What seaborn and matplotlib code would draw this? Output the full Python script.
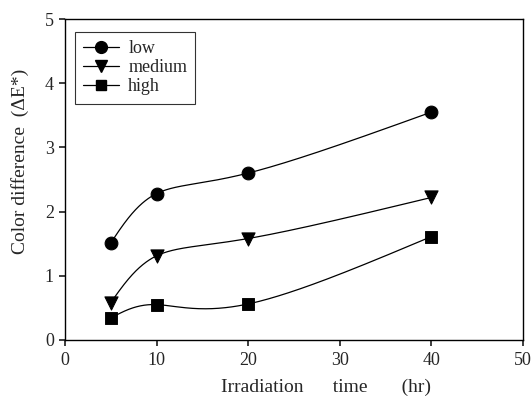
import numpy as np
import pandas as pd
import matplotlib
matplotlib.use("Agg")
import matplotlib.pyplot as plt
from matplotlib.lines import Line2D
import seaborn as sns

hours = [5, 10, 20, 40]
low = [1.51, 2.28, 2.60, 3.55]
medium = [0.58, 1.31, 1.58, 2.22]
high = [0.34, 0.55, 0.56, 1.61]
series_names = ["low", "medium", "high"]
x_ticks = [0, 10, 20, 30, 40, 50]
y_ticks = [0, 1, 2, 3, 4, 5]

sns.set_theme(style="ticks")
plt.rcParams['font.family'] = ['Liberation Serif', 'DejaVu Serif']


def natural_spline_1d(t, v, ts):
    t = np.asarray(t, float)
    v = np.asarray(v, float)
    k = len(t)
    h = np.diff(t)
    A = np.zeros((k, k))
    b = np.zeros(k)
    A[0, 0] = 1
    A[-1, -1] = 1
    for i in range(1, k - 1):
        A[i, i - 1] = h[i - 1]
        A[i, i] = 2 * (h[i - 1] + h[i])
        A[i, i + 1] = h[i]
        b[i] = 6 * ((v[i + 1] - v[i]) / h[i] - (v[i] - v[i - 1]) / h[i - 1])
    M = np.linalg.solve(A, b)
    out = np.empty_like(ts)
    for j, tv in enumerate(ts):
        i = min(max(np.searchsorted(t, tv, side="right") - 1, 0), k - 2)
        t1 = t[i + 1] - tv
        t2 = tv - t[i]
        out[j] = (M[i] * t1 ** 3 / (6 * h[i]) + M[i + 1] * t2 ** 3 / (6 * h[i])
                  + (v[i] / h[i] - M[i] * h[i] / 6) * t1
                  + (v[i + 1] / h[i] - M[i + 1] * h[i] / 6) * t2)
    return out


def parametric_spline(x, y, n=300):
    # uniform parameterisation (one unit per data point)
    t = np.arange(len(x), dtype=float)
    ts = np.linspace(0, t[-1], n)
    return natural_spline_1d(t, x, ts), natural_spline_1d(t, y, ts)


fig = plt.figure(figsize=(5.32, 3.98), dpi=100)
ax = fig.add_axes([0.122, 0.146, 0.861, 0.806])

markers = {"low": "o", "medium": "v", "high": "s"}
msizes = {"low": 85, "medium": 90, "high": 65}
data = {"low": low, "medium": medium, "high": high}

handles = []
for name in series_names:
    xs, ys = parametric_spline(hours, data[name])
    curve = pd.DataFrame({"x": xs, "y": ys})
    sns.lineplot(data=curve, x="x", y="y", ax=ax, color="black", lw=0.9,
                 sort=False, estimator=None)
    pts = pd.DataFrame({"x": hours, "y": data[name]})
    sns.scatterplot(data=pts, x="x", y="y", ax=ax, marker=markers[name],
                    s=msizes[name], color="black", edgecolor="black", zorder=3)
    handles.append(Line2D([], [], color="black", lw=0.9, marker=markers[name],
                          markersize=8.5 if name != "high" else 7.5, label=name))

ax.set_xlim(0, 50)
ax.set_ylim(0, 5)
ax.set_xticks(x_ticks)
ax.set_yticks(y_ticks)
ax.tick_params(axis="x", direction="out", length=4, labelsize=13, pad=5)
ax.tick_params(axis="y", direction="out", length=4, labelsize=13, pad=4)
for s in ax.spines.values():
    s.set_linewidth(1.0)
    s.set_color("black")
ax.set_xlabel("Irradiation      time       (hr)", fontsize=14)
ax.xaxis.set_label_coords(0.57, -0.12)
ax.xaxis.label.set_verticalalignment("top")
ax.set_ylabel("Color difference  (ΔE*)", fontsize=14)
ax.yaxis.set_label_coords(-0.098, 0.555)
ax.yaxis.label.set_verticalalignment("center")

leg = ax.legend(handles=handles, loc="upper left", bbox_to_anchor=(0.022, 0.96),
                fontsize=13, frameon=True, fancybox=False, handlelength=2.0,
                borderpad=0.45, labelspacing=0.12, handletextpad=0.5,
                borderaxespad=0.0)
leg.get_frame().set_edgecolor("black")
leg.get_frame().set_linewidth(0.8)

fig.savefig("out.png", dpi=100)
